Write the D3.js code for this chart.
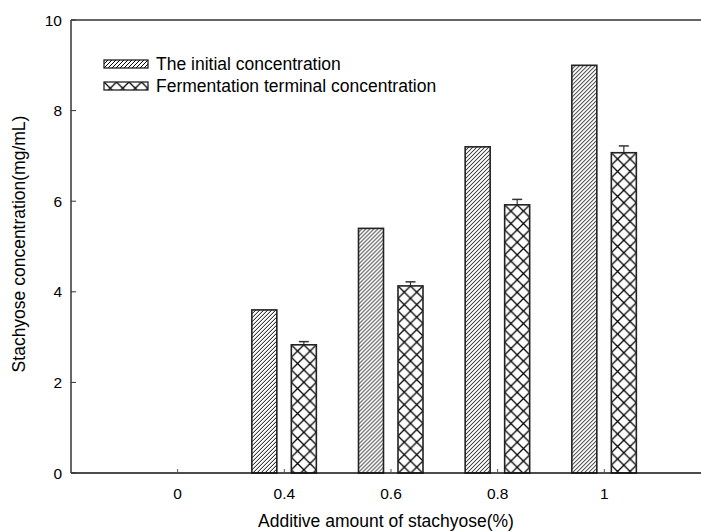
<!DOCTYPE html>
<html>
<head>
<meta charset="utf-8">
<script src="https://cdn.jsdelivr.net/npm/d3@7"></script>
<style>
  body { margin: 0; background: #fff; }
  text { font-family: "Liberation Sans", Arial, sans-serif; fill: #000; }
</style>
</head>
<body>
<svg id="chart" width="701" height="532"></svg>
<script>
// data
const categories = ["0", "0.4", "0.6", "0.8", "1"];
const initialConc = [0, 3.6, 5.4, 7.2, 9.0];
const terminalConc = [0, 2.83, 4.13, 5.92, 7.07];
const terminalErr = [0, 0.07, 0.09, 0.12, 0.15];
const yTicks = [0, 2, 4, 6, 8, 10];
const seriesNames = ["The initial concentration", "Fermentation terminal concentration"];

const svg = d3.select('#chart');
const plotLeft = 71, plotTop = 20, plotBottom = 473;

const x = d3.scaleLinear().domain([-1, categories.length]).range([plotLeft, 711]);
const y = d3.scaleLinear().domain([0, 10]).range([plotBottom, plotTop]);

const barW = 25;
const offs = [-20, 19.5];
const defs = svg.append('defs');

// hatch patterns, one per bar so the phase lines up with each bar
function hatch(id, x0, y0) {
    const p = defs.append('pattern')
        .attr('id', id)
        .attr('patternUnits', 'userSpaceOnUse')
        .attr('x', x0).attr('y', y0)
        .attr('width', 4).attr('height', 4);
    p.append('path').attr('d', 'M-1,1 L1,-1 M0,4 L4,0 M3,5 L5,3')
        .attr('stroke', '#000').attr('stroke-width', 1);
}
function cross(id, x0, y0) {
    const s = 12.5;
    const p = defs.append('pattern')
        .attr('id', id)
        .attr('patternUnits', 'userSpaceOnUse')
        .attr('x', x0).attr('y', y0)
        .attr('width', s).attr('height', s);
    p.append('path').attr('d', `M0,0 L${s},${s} M${s},0 L0,${s}`)
        .attr('stroke', '#000').attr('stroke-width', 1.3);
}

const g = svg.append('g');

// bars
categories.forEach((c, i) => {
    const cx = x(i);
    const v1 = initialConc[i], v2 = terminalConc[i];
    if (v1 > 0) {
        const bx = cx + offs[0] - barW / 2;
        hatch('h' + i, bx, y(v1));
        g.append('rect')
            .attr('x', bx).attr('y', y(v1))
            .attr('width', barW).attr('height', y(0) - y(v1))
            .attr('fill', `url(#h${i})`)
            .attr('stroke', '#222').attr('stroke-width', 1.6);
    }
    if (v2 > 0) {
        const bx = cx + offs[1] - barW / 2;
        cross('c' + i, bx, y(v2));
        // error bar
        const ey = y(v2 + terminalErr[i]);
        g.append('line')
            .attr('x1', cx + offs[1]).attr('x2', cx + offs[1])
            .attr('y1', y(v2)).attr('y2', ey)
            .attr('stroke', '#333').attr('stroke-width', 1.2);
        g.append('line')
            .attr('x1', cx + offs[1] - 5).attr('x2', cx + offs[1] + 5)
            .attr('y1', ey).attr('y2', ey)
            .attr('stroke', '#333').attr('stroke-width', 1.5);
        g.append('rect')
            .attr('x', bx).attr('y', y(v2))
            .attr('width', barW).attr('height', y(0) - y(v2))
            .attr('fill', `url(#c${i})`)
            .attr('stroke', '#222').attr('stroke-width', 1.6);
    }
});

// axes lines
svg.append('line').attr('x1', plotLeft).attr('x2', 701).attr('y1', plotTop).attr('y2', plotTop)
    .attr('stroke', '#333').attr('stroke-width', 1.5);
svg.append('line').attr('x1', plotLeft).attr('x2', 701).attr('y1', plotBottom).attr('y2', plotBottom)
    .attr('stroke', '#111').attr('stroke-width', 1.5);
svg.append('line').attr('x1', plotLeft).attr('x2', plotLeft).attr('y1', plotTop).attr('y2', plotBottom)
    .attr('stroke', '#333').attr('stroke-width', 1.5);

// y ticks
yTicks.forEach(t => {
    svg.append('line').attr('x1', plotLeft).attr('x2', plotLeft + 5)
        .attr('y1', y(t)).attr('y2', y(t)).attr('stroke', '#333').attr('stroke-width', 1);
    svg.append('text').attr('x', 62).attr('y', y(t)).attr('dy', '0.36em')
        .attr('text-anchor', 'end').attr('font-size', 15.5).text(t);
});

// x ticks
categories.forEach((c, i) => {
    svg.append('line').attr('x1', x(i)).attr('x2', x(i))
        .attr('y1', plotBottom).attr('y2', plotBottom - 4).attr('stroke', '#555').attr('stroke-width', 1);
    svg.append('text').attr('x', x(i)).attr('y', 499)
        .attr('text-anchor', 'middle').attr('font-size', 15.5).text(c);
});

// axis titles
svg.append('text').attr('x', 386).attr('y', 527)
    .attr('text-anchor', 'middle').attr('font-size', 17.5)
    .text('Additive amount of stachyose(%)');
svg.append('text')
    .attr('transform', 'translate(25,244) rotate(-90)')
    .attr('text-anchor', 'middle').attr('font-size', 17.5)
    .text('Stachyose concentration(mg/mL)');

// legend
hatch('lh', 104, 60);
cross('lc', 104, 82);
const lg = svg.append('g');
lg.append('rect').attr('x', 104).attr('y', 60).attr('width', 44).attr('height', 8)
    .attr('fill', 'url(#lh)').attr('stroke', '#222').attr('stroke-width', 1.3);
lg.append('rect').attr('x', 104).attr('y', 82).attr('width', 44).attr('height', 8)
    .attr('fill', 'url(#lc)').attr('stroke', '#222').attr('stroke-width', 1.3);
seriesNames.forEach((n, i) => {
    lg.append('text').attr('x', 156).attr('y', 69.5 + i * 22)
        .attr('font-size', 17.5).text(n);
});
</script>
</body>
</html>
